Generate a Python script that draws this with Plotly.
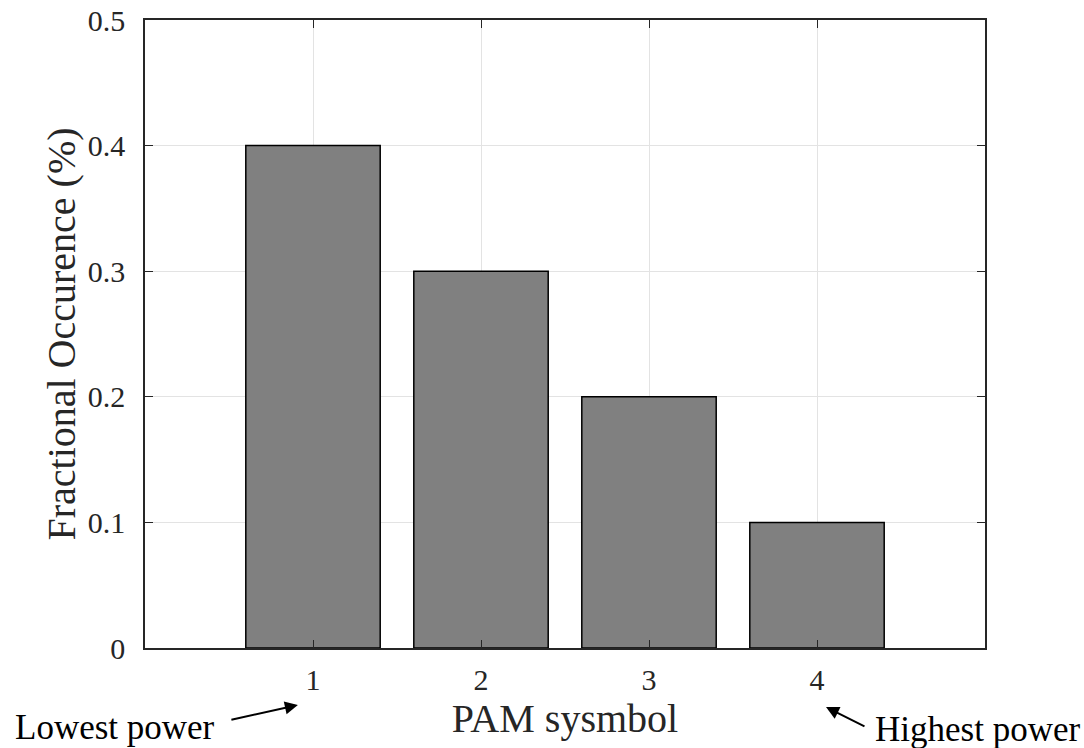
import plotly.graph_objects as go

symbols = [1, 2, 3, 4]
occurrence = [0.4, 0.3, 0.2, 0.1]
x_ticks = [1, 2, 3, 4]
y_ticks = [0, 0.1, 0.2, 0.3, 0.4, 0.5]
y_tick_labels = ["0", "0.1", "0.2", "0.3", "0.4", "0.5"]

FONT = "Liberation Serif"
AX = "#262626"

fig = go.Figure()
fig.add_trace(go.Bar(
    x=symbols, y=occurrence, width=0.8,
    marker=dict(color="#808080", line=dict(color="black", width=1.5)),
))

fig.update_layout(
    width=1084, height=748,
    margin=dict(l=145, r=99, t=20, b=100, autoexpand=False),
    paper_bgcolor="white", plot_bgcolor="white",
    showlegend=False,
    font=dict(family=FONT, color=AX, size=30),
    xaxis=dict(
        range=[0, 5], tickvals=x_ticks, ticks="inside", ticklen=8,
        tickcolor=AX, showline=True, linecolor=AX, linewidth=1.5, mirror="ticks",
        showgrid=True, gridcolor="#e3e3e3", gridwidth=1, zeroline=False, automargin=False,
        tickfont=dict(size=30, family=FONT, color=AX), ticklabelstandoff=4,
        title=dict(text="PAM sysmbol", font=dict(size=40, family=FONT, color=AX), standoff=4),
    ),
    yaxis=dict(
        range=[0, 0.5], tickvals=y_ticks, ticktext=y_tick_labels, ticks="inside", ticklen=8,
        tickcolor=AX, showline=True, linecolor=AX, linewidth=1.5, mirror="ticks",
        showgrid=True, gridcolor="#e3e3e3", gridwidth=1, zeroline=False, automargin=False,
        tickfont=dict(size=30, family=FONT, color=AX), ticklabelstandoff=12,
        title=dict(text="Fractional Occurence (%)", font=dict(size=40, family=FONT, color=AX), standoff=0),
    ),
)

# arrows
fig.add_annotation(x=0.182, y=-0.0908, xref="paper", yref="paper", text="",
                   showarrow=True, arrowhead=2, arrowsize=1.3, arrowwidth=2, arrowcolor="black",
                   ax=-68, ay=15)
fig.add_annotation(x=0.8107, y=-0.094, xref="paper", yref="paper", text="",
                   showarrow=True, arrowhead=2, arrowsize=1.3, arrowwidth=2, arrowcolor="black",
                   ax=40, ay=20)
fig.add_annotation(x=-0.036, y=-0.126, xref="paper", yref="paper", text="Lowest power",
                   showarrow=False, font=dict(size=35, family=FONT, color="black"),
                   xanchor="center", yanchor="middle")
fig.add_annotation(x=0.991, y=-0.129, xref="paper", yref="paper", text="Highest power",
                   showarrow=False, font=dict(size=35, family=FONT, color="black"),
                   xanchor="center", yanchor="middle")

fig.write_html("out.html", config={"displayModeBar": False},
               post_script="document.body.style.margin='0';document.body.style.overflow='hidden';")
